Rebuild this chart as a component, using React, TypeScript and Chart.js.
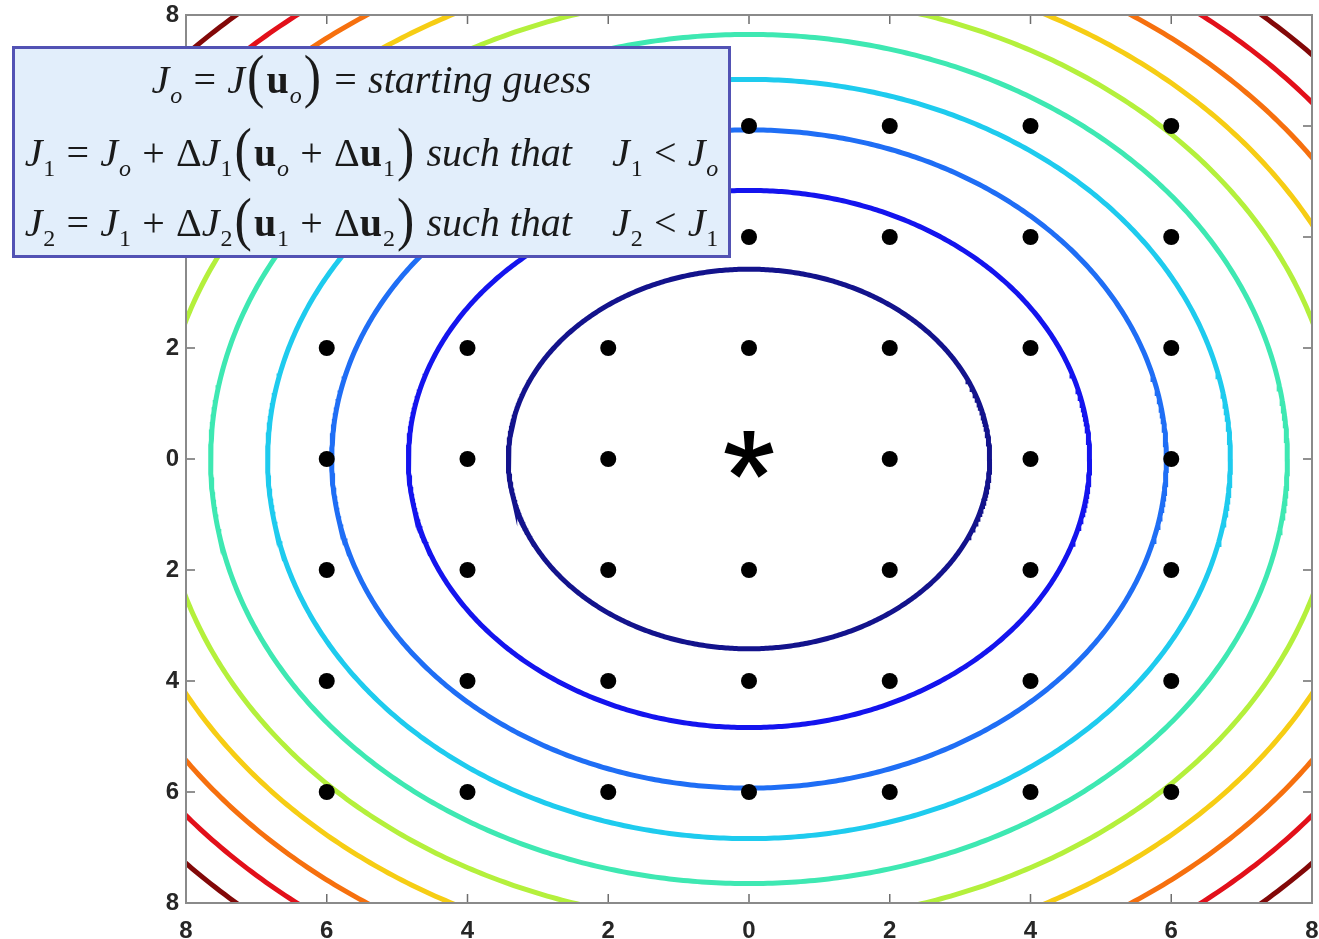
import React, { useEffect, useRef } from "react";
import { Chart, registerables } from "chart.js";

Chart.register(...registerables);

// Contour levels of J (radius of each circular level set, in u-units)
const contourRadii = [3.42, 4.84, 5.93, 6.84, 7.65, 8.38, 9.05, 9.67, 10.26, 10.82];
const contourColors = [
  "#13138c",
  "#1414ee",
  "#1f6ef5",
  "#1ecbee",
  "#3ee8b2",
  "#b4f03c",
  "#f6cd14",
  "#f6700e",
  "#e2101a",
  "#820808",
];

// Trial points of the search grid
const gridX = [-6, -4, -2, 0, 2, 4, 6];
const gridY = [6, 4, 2, 0, -2, -4, -6];

// Minimum of J
const optimumX = [0];
const optimumY = [0];

// Tick labels (drawn as magnitudes)
const xTickLabels = ["8", "6", "4", "2", "0", "2", "4", "6", "8"];
const yTickLabels = ["8", "6", "4", "2", "0", "2", "4", "6", "8"];

const AXIS_MIN = -8;
const AXIS_MAX = 8;
const TICK_STEP = 2;

function circlePoints(r: number) {
  const pts: { x: number; y: number }[] = [];
  const n = 720;
  for (let i = 0; i <= n; i++) {
    const t = (i / n) * Math.PI * 2;
    pts.push({ x: r * Math.cos(t), y: r * Math.sin(t) });
  }
  return pts;
}

// Five-armed asterisk used as the marker of the minimum
function makeAsterisk(): HTMLCanvasElement {
  const c = document.createElement("canvas");
  c.width = 60;
  c.height = 60;
  const ctx = c.getContext("2d")!;
  ctx.fillStyle = "#000";
  const cx = 30;
  const cy = 26;
  const len = 24;
  for (let k = 0; k < 5; k++) {
    const a = ((-90 + k * 72) * Math.PI) / 180;
    const nx = -Math.sin(a);
    const ny = Math.cos(a);
    const w0 = 3.5;
    const w1 = 5.5;
    ctx.beginPath();
    ctx.moveTo(cx + nx * w0, cy + ny * w0);
    ctx.lineTo(cx + len * Math.cos(a) + nx * w1, cy + len * Math.sin(a) + ny * w1);
    ctx.lineTo(cx + len * Math.cos(a) - nx * w1, cy + len * Math.sin(a) - ny * w1);
    ctx.lineTo(cx - nx * w0, cy - ny * w0);
    ctx.closePath();
    ctx.fill();
  }
  ctx.beginPath();
  ctx.arc(cx, cy, 6, 0, Math.PI * 2);
  ctx.fill();
  return c;
}

// Box frame with inward tick marks on all four sides
const framePlugin = {
  id: "frameTicks",
  afterDatasetsDraw(chart: any) {
    const { ctx, chartArea, scales } = chart;
    const { left, right, top, bottom } = chartArea;
    ctx.save();
    ctx.strokeStyle = "#6e6e6e";
    ctx.lineWidth = 1.5;
    const len = 9;
    for (let v = AXIS_MIN + TICK_STEP; v < AXIS_MAX; v += TICK_STEP) {
      const px = scales.x.getPixelForValue(v);
      const py = scales.y.getPixelForValue(v);
      ctx.beginPath();
      ctx.moveTo(px, bottom);
      ctx.lineTo(px, bottom - len);
      ctx.moveTo(px, top);
      ctx.lineTo(px, top + len);
      ctx.moveTo(left, py);
      ctx.lineTo(left + len, py);
      ctx.moveTo(right, py);
      ctx.lineTo(right - len, py);
      ctx.stroke();
    }
    ctx.strokeStyle = "#8a8a8a";
    ctx.lineWidth = 2;
    ctx.strokeRect(left, top, right - left, bottom - top);
    ctx.restore();
  },
};

const serif = "'Liberation Serif', 'Times New Roman', Times, serif";

function Sub({ t, italic }: { t: string; italic?: boolean }) {
  return (
    <span
      style={{
        fontSize: "0.6em",
        position: "relative",
        top: "0.42em",
        fontStyle: italic ? "italic" : "normal",
        marginLeft: "0.04em",
      }}
    >
      {t}
    </span>
  );
}

function P({ c }: { c: string }) {
  return (
    <span
      style={{
        fontSize: "1.3em",
        fontStyle: "normal",
        display: "inline-block",
        transform: "scaleY(1.12)",
        position: "relative",
        top: "0.02em",
        margin: "0 0.04em",
      }}
    >
      {c}
    </span>
  );
}

const J = () => <i>J</i>;
const U = () => <b style={{ fontStyle: "normal" }}>u</b>;
const D = () => <span style={{ fontStyle: "normal" }}>Δ</span>;
const Op = ({ c }: { c: string }) => <span style={{ margin: "0 0.28em" }}>{c}</span>;

export default function App() {
  const canvasRef = useRef<HTMLCanvasElement | null>(null);

  useEffect(() => {
    document.body.style.margin = "0";
    const canvas = canvasRef.current;
    if (!canvas) return;

    const dots: { x: number; y: number }[] = [];
    for (const y of gridY) {
      for (const x of gridX) {
        if (x === optimumX[0] && y === optimumY[0]) continue;
        dots.push({ x, y });
      }
    }

    const tickFont = { family: "'Liberation Sans', Arial, sans-serif", size: 24, weight: "bold" as const };

    const chart = new Chart(canvas, {
      type: "scatter",
      data: {
        datasets: [
          {
            label: "optimum",
            data: optimumX.map((x, i) => ({ x, y: optimumY[i] })),
            pointStyle: makeAsterisk(),
            pointRadius: 24,
            backgroundColor: "#000",
            borderColor: "#000",
          },
          {
            label: "grid",
            data: dots,
            pointRadius: 8,
            pointStyle: "circle",
            backgroundColor: "#000",
            borderWidth: 0,
          },
          ...contourRadii.map((r, i) => ({
            label: `J${i + 1}`,
            data: circlePoints(r),
            showLine: true,
            pointRadius: 0,
            borderColor: contourColors[i],
            borderWidth: 5,
            tension: 0,
            clip: 0,
          })),
        ],
      },
      options: {
        animation: false,
        responsive: false,
        devicePixelRatio: 1,
        layout: { autoPadding: false, padding: { top: 15, right: 7, left: 0, bottom: 0 } },
        plugins: { legend: { display: false }, tooltip: { enabled: false } },
        scales: {
          x: {
            type: "linear",
            min: AXIS_MIN,
            max: AXIS_MAX,
            grid: { display: false, drawTicks: false },
            border: { display: false },
            ticks: {
              stepSize: TICK_STEP,
              autoSkip: false,
              maxRotation: 0,
              padding: 14,
              color: "#262626",
              font: tickFont,
              callback: (_v: any, i: number) => xTickLabels[i],
            },
            afterFit: (s: any) => {
              s.height = 36;
              s.paddingLeft = 0;
              s.paddingRight = 0;
            },
          },
          y: {
            type: "linear",
            min: AXIS_MIN,
            max: AXIS_MAX,
            grid: { display: false, drawTicks: false },
            border: { display: false },
            ticks: {
              stepSize: TICK_STEP,
              autoSkip: false,
              padding: 7,
              color: "#262626",
              font: tickFont,
              callback: (_v: any, i: number) => yTickLabels[i],
            },
            afterFit: (s: any) => {
              s.width = 186;
              s.paddingTop = 0;
              s.paddingBottom = 0;
            },
          },
        },
      },
      plugins: [framePlugin],
    });

    return () => chart.destroy();
  }, []);

  const lineStyle: React.CSSProperties = {
    position: "absolute",
    left: 0,
    width: "100%",
    textAlign: "center",
    whiteSpace: "nowrap",
    lineHeight: "70px",
    height: 70,
  };

  return (
    <div style={{ position: "fixed", left: 0, top: 0, width: 1319, height: 939, background: "#fff" }}>
      <canvas ref={canvasRef} width={1319} height={939} style={{ display: "block" }} />
      <div
        style={{
          position: "absolute",
          left: 12,
          top: 46,
          width: 719,
          height: 212,
          boxSizing: "border-box",
          border: "3px solid #5252b4",
          background: "#e2eefb",
          fontFamily: serif,
          fontSize: 40,
          color: "#1a1a1a",
        }}
      >
        <div style={{ ...lineStyle, top: -8 }}>
          <J />
          <Sub t="o" italic />
          <Op c="=" />
          <J />
          <P c="(" />
          <U />
          <Sub t="o" italic />
          <P c=")" />
          <Op c="=" />
          <i>starting guess</i>
        </div>
        <div style={{ ...lineStyle, top: 65 }}>
          <J />
          <Sub t="1" />
          <Op c="=" />
          <J />
          <Sub t="o" italic />
          <Op c="+" />
          <D />
          <J />
          <Sub t="1" />
          <P c="(" />
          <U />
          <Sub t="o" italic />
          <Op c="+" />
          <D />
          <U />
          <Sub t="1" />
          <P c=")" /> <i>such that</i>
          <span style={{ display: "inline-block", width: 40 }} />
          <J />
          <Sub t="1" />
          <Op c="<" />
          <J />
          <Sub t="o" italic />
        </div>
        <div style={{ ...lineStyle, top: 135 }}>
          <J />
          <Sub t="2" />
          <Op c="=" />
          <J />
          <Sub t="1" />
          <Op c="+" />
          <D />
          <J />
          <Sub t="2" />
          <P c="(" />
          <U />
          <Sub t="1" />
          <Op c="+" />
          <D />
          <U />
          <Sub t="2" />
          <P c=")" /> <i>such that</i>
          <span style={{ display: "inline-block", width: 40 }} />
          <J />
          <Sub t="2" />
          <Op c="<" />
          <J />
          <Sub t="1" />
        </div>
      </div>
    </div>
  );
}
